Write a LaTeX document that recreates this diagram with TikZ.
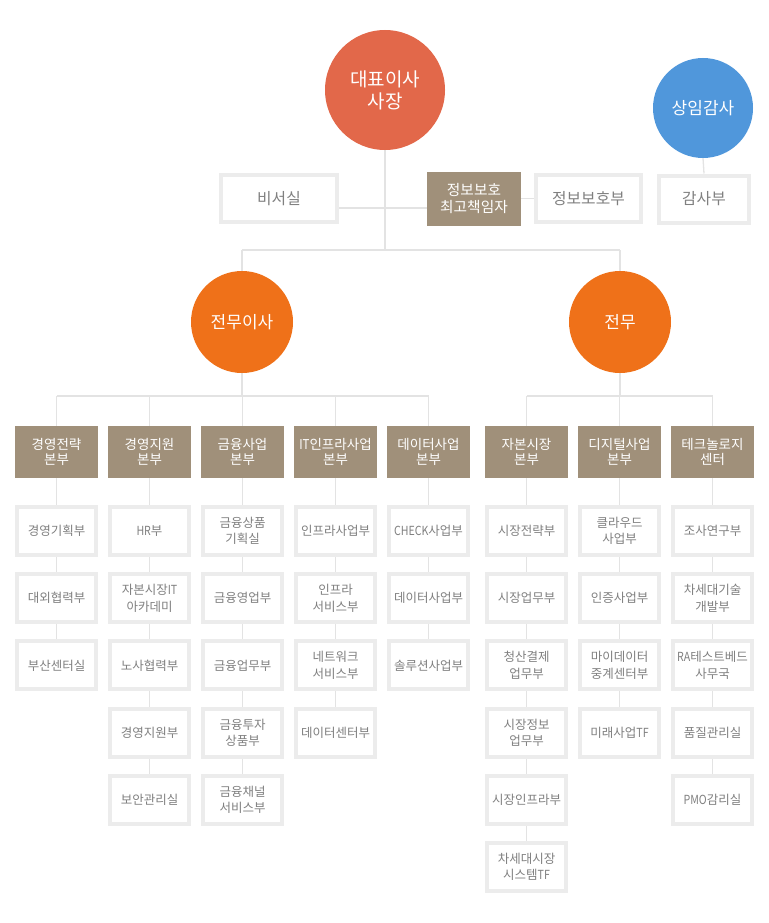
\documentclass[tikz,border=0pt]{standalone}
\usepackage{fontspec}
\usepackage{graphicx}
\setmainfont{Noto Sans CJK KR}
\usetikzlibrary{backgrounds}
\newcommand\narrowlat[1]{\scalebox{0.85}[1]{#1}}
\definecolor{ceoc}{HTML}{E2684A}
\definecolor{dirc}{HTML}{EF7119}
\definecolor{audc}{HTML}{5097DB}
\definecolor{brownc}{HTML}{A0907A}
\definecolor{boxg}{HTML}{ECECEC}
\definecolor{lineg}{HTML}{E3E3E3}
\definecolor{txtg}{HTML}{808080}
\begin{document}
\begin{tikzpicture}[x=1pt,y=-1pt,
  conn/.style={draw=lineg, line width=1.3pt},
  circ/.style={circle, fill=#1, text=white, inner sep=0pt, align=center},
  subbox/.style={rectangle, draw=boxg, line width=4pt, fill=white, minimum width=79pt, minimum height=48pt, inner sep=0pt, text=txtg, align=center, font=\fontsize{12.5}{16.5}\selectfont},
  topbox/.style={subbox, minimum height=47pt, font=\fontsize{15.8}{19}\selectfont},
  head/.style={rectangle, fill=brownc, minimum width=83pt, minimum height=52pt, inner sep=0pt, text=white, align=center, font=\fontsize{13.5}{15.5}\selectfont}
]
\useasboundingbox (0,0) rectangle (768,923);

% top level
\node[circ=ceoc, minimum size=120pt, font=\fontsize{19}{22}\selectfont] (ceo) at (385,90) {대표이사\\사장};
\node[circ=audc, minimum size=100pt, font=\fontsize{17}{19}\selectfont] (aud) at (703,108) {상임감사};
\node[topbox, minimum width=116pt] (secr) at (279,198.5) {비서실};
\node[rectangle, fill=brownc, minimum width=94pt, minimum height=54pt, inner sep=0pt, text=white, align=center, font=\fontsize{14.7}{17}\selectfont] (ciso) at (474,198.5) {정보보호\\최고책임자};
\node[topbox, minimum width=105pt] (isd) at (588.5,198.5) {정보보호부};
\node[topbox, minimum width=90pt] (audd) at (704,199) {감사부};

\node[circ=dirc, minimum size=102pt, font=\fontsize{17}{19}\selectfont] (jmi) at (242,322) {전무이사};
\node[circ=dirc, minimum size=102pt, font=\fontsize{17}{19}\selectfont] (jm) at (620,322) {전무};

\coordinate (trunk) at (385,250);
\coordinate (jl) at (242,250);
\coordinate (jr) at (620,250);
\coordinate (barl) at (56.5,396);
\coordinate (barm) at (428.5,396);
\coordinate (barr1) at (526.5,396);
\coordinate (barr2) at (712.5,396);

\begin{scope}[on background layer]
\draw[conn] (ceo.south) -- (trunk);
\draw[conn] (jl) -- (jr);
\draw[conn] (jl) -- (jmi.north);
\draw[conn] (jr) -- (jm.north);
\draw[conn] ([yshift=-9.5pt]secr.east) -- ([yshift=-9.5pt]ciso.west);
\draw[conn] (ciso.east) -- (isd.west);
\draw[conn] (aud.south) -- (audd.north);
\draw[conn] (jmi.south) -- (jmi.south |- barl);
\draw[conn] (jm.south) -- (jm.south |- barl);
\draw[conn] (barl) -- (barm);
\draw[conn] (barr1) -- (barr2);
\end{scope}

\foreach \c/\x/\hd/\items in {
 1/56.5/{경영전략\\본부}/{경영기획부,대외협력부,부산센터실},
 2/149.5/{경영지원\\본부}/{\narrowlat{HR}부,자본시장\narrowlat{IT}\\아카데미,노사협력부,경영지원부,보안관리실},
 3/242.5/{금융사업\\본부}/{금융상품\\기획실,금융영업부,금융업무부,금융투자\\상품부,금융채널\\서비스부},
 4/335.5/{\narrowlat{IT}인프라사업\\본부}/{인프라사업부,인프라\\서비스부,네트워크\\서비스부,데이터센터부},
 5/428.5/{데이터사업\\본부}/{\narrowlat{CHECK}사업부,데이터사업부,솔루션사업부},
 6/526.5/{자본시장\\본부}/{시장전략부,시장업무부,청산결제\\업무부,시장정보\\업무부,시장인프라부,차세대시장\\시스템\narrowlat{TF}},
 7/619.5/{디지털사업\\본부}/{클라우드\\사업부,인증사업부,마이데이터\\중계센터부,미래사업\narrowlat{TF}},
 8/712.5/{테크놀로지\\센터}/{조사연구부,차세대기술\\개발부,\narrowlat{RA}테스트베드\\사무국,품질관리실,\narrowlat{PMO}감리실}}
{
  \node[head, alias=h\c] (b\c-0) at (\x,452) {\hd};
  \begin{scope}[on background layer]
    \draw[conn] (b\c-0.north) -- (b\c-0.north |- barl);
  \end{scope}
  \foreach \t [count=\j] in \items {
    \pgfmathtruncatemacro\jp{\j-1}
    \node[subbox] (b\c-\j) at (\x,{531+67.2*(\j-1)}) {\t};
    \begin{scope}[on background layer]
      \draw[conn] (b\c-\jp) -- (b\c-\j);
    \end{scope}
  }
}
\end{tikzpicture}
\end{document}
